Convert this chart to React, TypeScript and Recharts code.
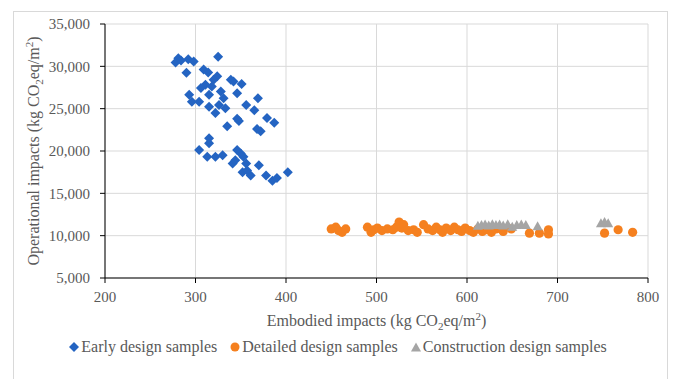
import {
  ScatterChart,
  Scatter,
  XAxis,
  YAxis,
  CartesianGrid,
  Legend,
} from "recharts";

// Early design samples (embodied, operational)
const earlyEmbodied = [
  281, 278, 284, 292, 298, 290, 325, 309, 314, 324, 320, 339, 342, 351, 311,
  306, 318, 328, 293, 296, 304, 315, 331, 346, 369, 356, 365, 315, 326, 333,
  322, 346, 379, 387, 335, 348, 372, 368, 315, 315, 304, 313, 322, 346, 353,
  350, 341, 344, 356, 370, 352, 361, 357, 378, 385, 390, 402, 330,
];
const earlyOperational = [
  30960, 30450, 30700, 30840, 30570, 29240, 31120, 29640, 29270, 28830, 28430,
  28430, 28200, 27910, 27830, 27430, 27630, 27030, 26630, 25820, 25820, 26630,
  26230, 26830, 26230, 25420, 24820, 25220, 25420, 25060, 24500, 23820, 23900,
  23350, 22930, 23530, 22325, 22600, 21520, 20920, 20120, 19310, 19310, 20120,
  19310, 19700, 18510, 18900, 18510, 18310, 17500, 17110, 17700, 17110, 16500,
  16800, 17500, 19500,
];

// Detailed design samples
const detailedEmbodied = [
  450, 455, 458, 462, 466, 490, 494, 497, 501, 506, 512, 518, 522, 525, 528,
  530, 535, 541, 545, 552, 557, 562, 566, 570, 573, 577, 582, 586, 590, 594,
  598, 603, 607, 612, 617, 622, 627, 632, 640, 649, 669, 680, 690, 690, 752,
  767, 783,
];
const detailedOperational = [
  10800, 11000, 10600, 10400, 10800, 11000, 10400, 10700, 10900, 10600, 10800,
  10700, 11000, 11600, 10900, 11300, 10600, 10700, 10400, 11300, 10800, 10600,
  11000, 10700, 10400, 10900, 10600, 11000, 10700, 10500, 10900, 10600, 10400,
  10800, 10500, 10700, 10400, 10800, 10500, 10800, 10300, 10300, 10700, 10200,
  10300, 10700, 10400,
];

// Construction design samples
const constructionEmbodied = [
  612, 616, 620, 624, 628, 632, 636, 640, 645, 650, 655, 660, 665, 678, 748,
  752, 756,
];
const constructionOperational = [
  11100, 11200, 11250, 11150, 11300, 11200, 11250, 11150, 11300, 11000, 11200,
  11250, 11200, 11050, 11400, 11550, 11400,
];

const xTicks = [200, 300, 400, 500, 600, 700, 800];
const yTicks = [5000, 10000, 15000, 20000, 25000, 30000, 35000];

const toPoints = (xs: number[], ys: number[]) =>
  xs.map((x, i) => ({ x, y: ys[i] }));

const BLUE = "#2464c2";
const ORANGE = "#f5801f";
const GREY = "#a5a5a5";
const TEXT = "#595959";
const FONT = "'Liberation Serif', 'Times New Roman', serif";

const Diamond = ({ cx, cy }: any) => (
  <path
    d={`M${cx},${cy - 5} L${cx + 5},${cy} L${cx},${cy + 5} L${cx - 5},${cy} Z`}
    fill={BLUE}
  />
);
const Dot = ({ cx, cy }: any) => <circle cx={cx} cy={cy} r={4.6} fill={ORANGE} />;
const Triangle = ({ cx, cy }: any) => (
  <path
    d={`M${cx},${cy - 5.5} L${cx + 5},${cy + 3.5} L${cx - 5},${cy + 3.5} Z`}
    fill={GREY}
  />
);

const LegendContent = () => (
  <div
    style={{
      display: "flex",
      justifyContent: "center",
      alignItems: "center",
      fontFamily: FONT,
      fontSize: 16,
      color: TEXT,
      gap: 13,
    }}
  >
    <span style={{ display: "flex", alignItems: "center" }}>
      <svg width={10} height={10} style={{ marginRight: 2 }}>
        <path d="M5,0 L10,5 L5,10 L0,5 Z" fill={BLUE} />
      </svg>
      Early design samples
    </span>
    <span style={{ display: "flex", alignItems: "center" }}>
      <svg width={10} height={10} style={{ marginRight: 2 }}>
        <circle cx={5} cy={5} r={4.5} fill={ORANGE} />
      </svg>
      Detailed design samples
    </span>
    <span style={{ display: "flex", alignItems: "center" }}>
      <svg width={10} height={10} style={{ marginRight: 2 }}>
        <path d="M5,0.5 L10,9.5 L0,9.5 Z" fill={GREY} />
      </svg>
      Construction design samples
    </span>
  </div>
);

const XTitle = ({ viewBox }: any) => {
  const cx = viewBox.x + viewBox.width / 2;
  return (
    <text
      x={cx}
      y={326}
      textAnchor="middle"
      fontFamily={FONT}
      fontSize={16}
      fill={TEXT}
    >
      Embodied impacts (kg CO
      <tspan fontSize={11} dy={4}>2</tspan>
      <tspan dy={-4}>eq/m</tspan>
      <tspan fontSize={11} dy={-6}>2</tspan>
      <tspan dy={6}>)</tspan>
    </text>
  );
};

const YTitle = ({ viewBox }: any) => {
  const cy = viewBox.y + viewBox.height / 2;
  return (
    <text
      x={0}
      y={0}
      transform={`translate(39, ${cy}) rotate(-90)`}
      textAnchor="middle"
      fontFamily={FONT}
      fontSize={16}
      fill={TEXT}
    >
      Operational impacts (kg CO
      <tspan fontSize={11} dy={4}>2</tspan>
      <tspan dy={-4}>eq/m</tspan>
      <tspan fontSize={11} dy={-6}>2</tspan>
      <tspan dy={6}>)</tspan>
    </text>
  );
};

export default function App() {
  const tickStyle = { fontSize: 15, fill: TEXT, fontFamily: FONT };
  return (
    <div
      style={{
        position: "absolute",
        left: 0,
        top: 0,
        width: 676,
        height: 379,
        background: "#fff",
      }}
    >
      <div
        style={{
          position: "absolute",
          left: 13,
          top: 11,
          width: 655,
          height: 370,
          border: "1px solid #d9d9d9",
          boxSizing: "border-box",
        }}
      />
      <ScatterChart
        width={676}
        height={379}
        margin={{ top: 24, right: 28, left: 0, bottom: 61 }}
      >
        <CartesianGrid stroke="#d9d9d9" strokeWidth={1} />
        <XAxis
          type="number"
          dataKey="x"
          domain={[200, 800]}
          ticks={xTicks}
          height={40}
          tick={tickStyle}
          tickSize={5}
          tickMargin={8}
          stroke="#000"
          label={<XTitle />}
        />
        <YAxis
          type="number"
          dataKey="y"
          domain={[5000, 35000]}
          ticks={yTicks}
          width={105}
          tick={tickStyle}
          tickSize={5}
          tickMargin={10}
          stroke="#000"
          tickFormatter={(v: number) => v.toLocaleString("en-US")}
          label={<YTitle />}
        />
        <Legend
          verticalAlign="middle"
          align="center"
          layout="horizontal"
          content={<LegendContent />}
          wrapperStyle={{ top: 338, left: 0, width: 676 }}
        />
        <Scatter
          name="Early design samples"
          data={toPoints(earlyEmbodied, earlyOperational)}
          shape={<Diamond />}
          isAnimationActive={false}
        />
        <Scatter
          name="Detailed design samples"
          data={toPoints(detailedEmbodied, detailedOperational)}
          shape={<Dot />}
          isAnimationActive={false}
        />
        <Scatter
          name="Construction design samples"
          data={toPoints(constructionEmbodied, constructionOperational)}
          shape={<Triangle />}
          isAnimationActive={false}
        />
      </ScatterChart>
    </div>
  );
}
